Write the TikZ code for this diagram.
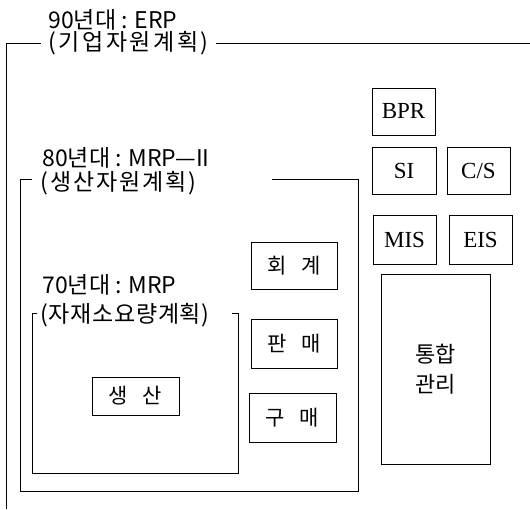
\documentclass[tikz,border=0pt]{standalone}
\usepackage{fontspec}
\setmainfont{Noto Sans CJK KR}
\newfontfamily\latinserif{Liberation Serif}
\begin{document}
\begin{tikzpicture}[x=1pt,y=-1pt,line width=0.8pt,
  ttl/.style={anchor=west,inner xsep=0pt,inner ysep=0pt,font=\fontsize{23}{26}\selectfont},
  sub/.style={anchor=west,inner ysep=0pt,font=\fontsize{23}{26}\selectfont},
  kbox/.style={draw,inner sep=0pt,font=\fontsize{21}{24}\selectfont},
  ebox/.style={draw,inner sep=0pt,font=\latinserif\fontsize{23}{26}\selectfont},
  frame/.style={line width=0.8pt}]
\useasboundingbox (0,0) rectangle (530,509);
% 90s frame
\node[ttl] (t90) at (48,20) {90년대 : ERP};
\node[sub,inner xsep=7pt] (s90) at (41,43) {\addfontfeature{LetterSpace=11}(기업자원계획)};
\coordinate (c90bl) at (6,509);
\coordinate (c90tl) at (6,43);
\coordinate (c90tr) at (530,43);
\draw[frame] (c90bl) -- (c90tl) -- (s90.west);
\draw[frame] (s90.east) -- (c90tr);
% 80s frame
\node[ttl] (t80) at (42,158) {80년대 : MRP—II};
\node[sub,inner xsep=0pt] (s80) at (40,183) {\addfontfeature{LetterSpace=8}(생산자원계획)};
\coordinate (c80a) at (272,179);
\coordinate (c80tr) at (358,179);
\coordinate (c80br) at (358,491);
\coordinate (c80bl) at (20,491);
\coordinate (c80tl) at (20,179);
\coordinate (c80b) at (32,179);
\draw[frame] (c80a) -- (c80tr) -- (c80br) -- (c80bl) -- (c80tl) -- (c80b);
% 70s frame
\node[ttl] (t70) at (42,285) {70년대 : MRP};
\node[sub,inner xsep=0pt] (s70) at (40,315) {\addfontfeature{LetterSpace=3}(자재소요량계획)};
\coordinate (c70a) at (37,313);
\coordinate (c70tl) at (32,313);
\coordinate (c70bl) at (32,473);
\coordinate (c70br) at (238,473);
\coordinate (c70tr) at (238,313);
\coordinate (c70b) at (232,313);
\draw[frame] (c70a) -- (c70tl) -- (c70bl) -- (c70br) -- (c70tr) -- (c70b);
% inner boxes
\node[kbox,minimum width=87pt,minimum height=38pt] (prod) at (135.5,396) {생\hspace{0.7em}산};
\node[kbox,minimum width=86pt,minimum height=47pt] (acct) at (294,265.5) {회\hspace{0.7em}계};
\node[kbox,minimum width=86pt,minimum height=49pt] (sales) at (294,343.5) {판\hspace{0.7em}매};
\node[kbox,minimum width=87pt,minimum height=49pt] (purch) at (292.5,417.5) {구\hspace{0.7em}매};
% right column
\node[ebox,minimum width=63pt,minimum height=47pt] (bpr) at (403.5,111.5) {BPR};
\node[ebox,minimum width=64pt,minimum height=47pt] (si) at (404,170.5) {SI};
\node[ebox,minimum width=63pt,minimum height=47pt] (cs) at (478.5,170.5) {C/S};
\node[ebox,minimum width=63pt,minimum height=49pt] (mis) at (404.5,239.5) {MIS};
\node[ebox,minimum width=63pt,minimum height=49pt] (eis) at (480.5,239.5) {EIS};
\node[kbox,minimum width=109pt,minimum height=190pt,align=center,font=\fontsize{22}{30}\selectfont] (integ) at (435.5,369) {통합\\관리};
\end{tikzpicture}
\end{document}
